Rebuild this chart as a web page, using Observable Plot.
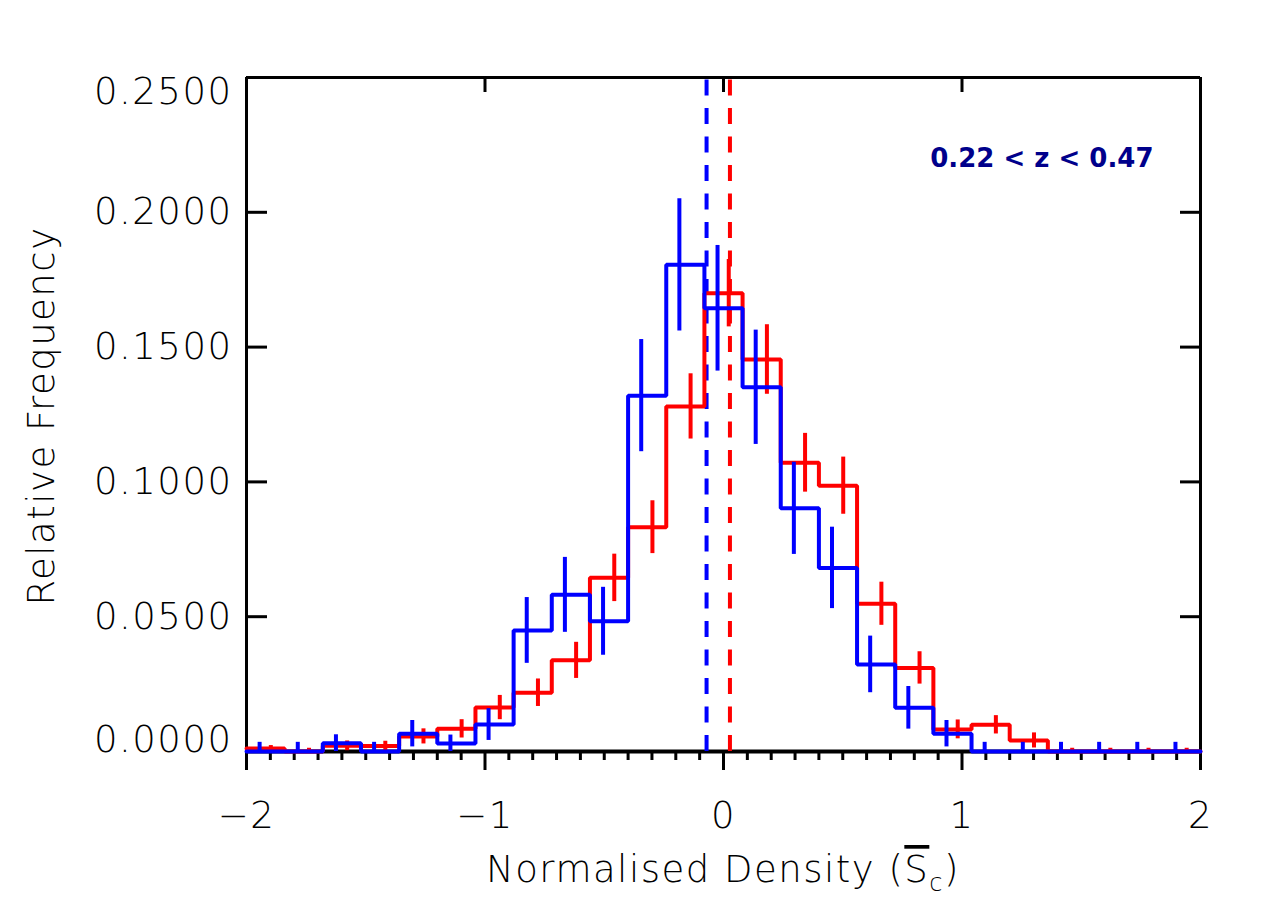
<!DOCTYPE html>
<html>
<head>
<meta charset="utf-8">
<script src="https://cdn.jsdelivr.net/npm/d3@7"></script>
<script src="https://cdn.jsdelivr.net/npm/@observablehq/plot@0.6"></script>
<style>
  html, body { margin: 0; padding: 0; background: #ffffff; }
</style>
</head>
<body>
<div id="chart"></div>
<script>
// ---------------- data ----------------
const binCenters = [-1.92, -1.76, -1.60, -1.44, -1.28, -1.12, -0.96, -0.80, -0.64, -0.48, -0.32, -0.16, 0,
                    0.16, 0.32, 0.48, 0.64, 0.80, 0.96, 1.12, 1.28, 1.44, 1.60, 1.76, 1.92];

const blueFreq = [0, 0, 0.0031, 0, 0.0066, 0.0030, 0.0100, 0.0449, 0.0581, 0.0483, 0.1320, 0.1805, 0.1644,
                  0.1351, 0.0902, 0.0681, 0.0323, 0.0162, 0.0066, 0, 0, 0, 0, 0, 0];
const blueErr  = [0.0034, 0.0034, 0.0031, 0.0034, 0.0049, 0.0031, 0.0059, 0.0122, 0.0139, 0.0126, 0.0208, 0.0245, 0.0233,
                  0.0212, 0.0171, 0.0151, 0.0105, 0.0079, 0.0049, 0.0034, 0.0034, 0.0034, 0.0034, 0.0034, 0.0034];

const redFreq  = [0.0011, 0, 0.0021, 0.0020, 0.0056, 0.0084, 0.0163, 0.0218, 0.0338, 0.0644, 0.0832, 0.1280, 0.1700,
                  0.1454, 0.1071, 0.0986, 0.0548, 0.0310, 0.0082, 0.0099, 0.0041, 0, 0, 0, 0];
const redErr   = [0.0011, 0.0012, 0.0018, 0.0018, 0.0028, 0.0034, 0.0045, 0.0051, 0.0067, 0.0088, 0.0098, 0.0121, 0.0125,
                  0.0129, 0.0109, 0.0106, 0.0080, 0.0060, 0.0035, 0.0034, 0.0028, 0.0012, 0.0012, 0.0012, 0.0012];

const blueMedian = -0.071;
const redMedian = 0.027;

const xMajorTicks = [-2, -1, 0, 1, 2];
const xMinorTicks = [-1.9, -1.8, -1.7, -1.6, -1.5, -1.4, -1.3, -1.2, -1.1,
                     -0.9, -0.8, -0.7, -0.6, -0.5, -0.4, -0.3, -0.2, -0.1,
                     0.1, 0.2, 0.3, 0.4, 0.5, 0.6, 0.7, 0.8, 0.9,
                     1.1, 1.2, 1.3, 1.4, 1.5, 1.6, 1.7, 1.8, 1.9];
const yTicks = [0, 0.05, 0.10, 0.15, 0.20, 0.25];
const yTickLabels = ["0.0000", "0.0500", "0.1000", "0.1500", "0.2000", "0.2500"];

const yTitle = "Relative Frequency";
const xTitleText = "Normalised Density (";
const xTitleSymbol = "S";
const xTitleSub = "c";
const xTitleEnd = ")";
const zLabel = "0.22 < z < 0.47";

// ---------------- styling / layout ----------------
const RED = "#ff0000";
const BLUE = "#0000ff";
const NAVY = "#00008b";
const FONT = "'DejaVu Sans', 'Liberation Sans', Arial, sans-serif";
const yFloor = -0.00705;          // plot frame extends slightly below zero
const blueBarShift = -0.025;      // error bars drawn slightly off the bin centre
const redBarShift = 0.022;

const binWidth = binCenters[1] - binCenters[0];

function steps(freq) {
  const pts = binCenters.map((c, i) => ({x: c - binWidth / 2, y: freq[i]}));
  pts.push({x: binCenters[binCenters.length - 1] + binWidth / 2, y: freq[freq.length - 1]});
  return pts;
}
function bars(freq, err, shift) {
  return binCenters.map((c, i) => ({x: c + shift, lo: Math.max(0, freq[i] - err[i]), hi: freq[i] + err[i]}));
}

const blueSteps = steps(blueFreq), redSteps = steps(redFreq);
const blueBars = bars(blueFreq, blueErr, blueBarShift);
const redBars = bars(redFreq, redErr, redBarShift);

const yLab = yTicks.map((v, i) => ({v, t: yTickLabels[i]}));
const yLabMid = yLab.slice(1, -1);
const yLabTop = yLab.slice(-1);
const yLabBottom = yLab.slice(0, 1);

const yTop = yTicks[yTicks.length - 1];

const plot = Plot.plot({
  width: 1272,
  height: 908,
  marginLeft: 246,
  marginRight: 72,
  marginTop: 77,
  marginBottom: 138,
  x: {domain: [xMajorTicks[0], xMajorTicks[xMajorTicks.length - 1]]},
  y: {domain: [yFloor, yTop]},
  style: {background: "#ffffff", color: "#000", fontFamily: FONT, fontSize: "37px", fontWeight: 200, letterSpacing: "1.5px"},
  marks: [
    // frame: left, right, top, and the zero line
    Plot.ruleX([xMajorTicks[0], xMajorTicks[xMajorTicks.length - 1]], {stroke: "#000", strokeWidth: 3}),
    Plot.ruleY([yTop], {stroke: "#000", strokeWidth: 3}),
    Plot.ruleY([0], {stroke: "#000", strokeWidth: 4}),

    // x ticks hanging below the zero line
    Plot.axisX(xMajorTicks, {anchor: "bottom", tickSize: 19, dy: -19, strokeWidth: 3, fill: "none", label: null}),
    Plot.axisX(xMinorTicks, {anchor: "bottom", tickSize: 9, dy: -19, strokeWidth: 3, fill: "none", label: null}),
    // top inward ticks
    Plot.axisX(xMajorTicks, {anchor: "bottom", frameAnchor: "top", tickSize: 15, strokeWidth: 3, fill: "none", label: null}),
    // y inward ticks, left and right
    Plot.axisY(yTicks, {anchor: "right", frameAnchor: "left", tickSize: 20, strokeWidth: 3, fill: "none", label: null}),
    Plot.axisY(yTicks, {anchor: "left", frameAnchor: "right", tickSize: 20, strokeWidth: 3, fill: "none", label: null}),

    // x tick labels
    Plot.axisX(xMajorTicks, {anchor: "bottom", tickSize: 0, tickPadding: 31, stroke: "none", label: null,
                             fontSize: 37, tickFormat: d => (d < 0 ? "\u2212" + Math.abs(d) : String(d))}),
    // y tick labels
    Plot.text(yLabMid, {frameAnchor: "left", y: "v", text: "t", textAnchor: "end", dx: -14, fontSize: 37}),
    Plot.text(yLabTop, {frameAnchor: "left", y: "v", text: "t", textAnchor: "end", dx: -14, dy: 15, fontSize: 37}),
    Plot.text(yLabBottom, {frameAnchor: "left", y: "v", text: "t", textAnchor: "end", dx: -14, dy: -11, fontSize: 37}),

    // axis title (y)
    Plot.text([yTitle], {text: d => d, frameAnchor: "left", textAnchor: "middle", rotate: -90, dx: -204, dy: -8, fontSize: 37}),

    // annotation
    Plot.text([zLabel], {text: d => d, frameAnchor: "top-right", textAnchor: "end", dx: -47, dy: 71,
                         fill: NAVY, fontSize: 26, fontWeight: "bold"}),

    // median markers
    Plot.ruleX([blueMedian], {y1: () => 0, y2: () => yTop, stroke: BLUE, strokeWidth: 4, strokeDasharray: "16,12.5"}),
    Plot.ruleX([redMedian], {y1: () => 0, y2: () => yTop, stroke: RED, strokeWidth: 4, strokeDasharray: "16,12.5"}),

    // red histogram + errors
    Plot.line(redSteps, {x: "x", y: "y", curve: "step-after", stroke: RED, strokeWidth: 4, strokeLinejoin: "miter"}),
    Plot.ruleX(redBars, {x: "x", y1: "lo", y2: "hi", stroke: RED, strokeWidth: 4}),
    // blue histogram + errors
    Plot.line(blueSteps, {x: "x", y: "y", curve: "step-after", stroke: BLUE, strokeWidth: 4, strokeLinejoin: "miter"}),
    Plot.ruleX(blueBars, {x: "x", y1: "lo", y2: "hi", stroke: BLUE, strokeWidth: 4})
  ]
});

document.getElementById("chart").appendChild(plot);

// x axis title with overlined S and subscript c
const svg = d3.select(plot);
svg.selectAll("text").filter(function () { return this.textContent === zLabel; }).style("letter-spacing", "0px");
const xs = plot.scale("x");
const cx = (xs.range[0] + xs.range[1]) / 2;
const title = svg.append("text")
  .attr("x", cx)
  .attr("y", 882)
  .attr("text-anchor", "middle")
  .attr("font-family", FONT)
  .attr("font-size", 37)
  .attr("font-weight", 200)
  .attr("fill", "#000");
title.append("tspan").text(xTitleText);
title.append("tspan").style("text-decoration", "overline").text(xTitleSymbol);
title.append("tspan").attr("font-size", 24).attr("dy", 9).text(xTitleSub);
title.append("tspan").attr("dy", -9).text(xTitleEnd);
</script>
</body>
</html>
